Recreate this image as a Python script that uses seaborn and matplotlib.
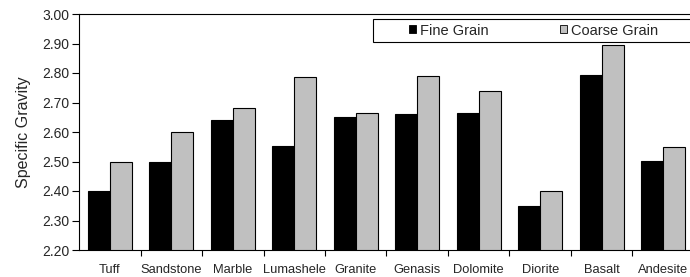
import pandas as pd
import seaborn as sns
import matplotlib.pyplot as plt

rocks = ["Tuff", "Sandstone", "Marble", "Lumashele", "Granite",
         "Genasis", "Dolomite", "Diorite", "Basalt", "Andesite"]
fine_grain = [2.40, 2.50, 2.64, 2.554, 2.65, 2.662, 2.664, 2.35, 2.794, 2.502]
coarse_grain = [2.497, 2.60, 2.68, 2.786, 2.663, 2.79, 2.739, 2.40, 2.895, 2.55]

df = pd.DataFrame({
    "Rock": rocks * 2,
    "SG": fine_grain + coarse_grain,
    "Grain": ["Fine Grain"] * len(rocks) + ["Coarse Grain"] * len(rocks),
})

sns.set_style("white")
plt.rcParams["font.family"] = ["Liberation Sans", "DejaVu Sans"]

fig = plt.figure(figsize=(6.9, 2.77), dpi=100)
ax = fig.add_axes([79 / 690, 27 / 277, 615 / 690, 236 / 277])

sns.barplot(data=df, x="Rock", y="SG", hue="Grain",
            palette=["#000000", "#c0c0c0"], width=0.72,
            edgecolor="black", linewidth=0.8, ax=ax, legend=False)

ax.set_ylim(2.20, 3.00)
ax.set_xlim(-0.5, len(rocks) - 0.5)
ax.set_yticks([2.20 + 0.1 * i for i in range(9)])
ax.set_yticklabels([f"{2.20 + 0.1 * i:.2f}" for i in range(9)], fontsize=10)
ax.set_ylabel("Specific Gravity", fontsize=11.5, labelpad=8)
ax.set_xlabel("")

ax.set_xticks(range(len(rocks)))
ax.set_xticklabels(rocks, fontsize=9.3)
ax.tick_params(axis="x", which="major", length=0, pad=10)
ax.set_xticks([i + 0.5 for i in range(len(rocks) - 1)], minor=True)
ax.tick_params(axis="x", which="minor", length=4.5, width=0.8, color="black", direction="out", bottom=True)
ax.tick_params(axis="y", length=5, width=0.8, color="black", direction="out", left=True, pad=2)

for side in ["left", "top", "bottom", "right"]:
    ax.spines[side].set_color("black")
    ax.spines[side].set_linewidth(0.8)

# legend frame runs off the right edge like in the original
frame = plt.Rectangle((0.478, 0.881), 0.6, 0.098, transform=ax.transAxes,
                      facecolor="white", edgecolor="black", linewidth=0.8,
                      clip_on=False, zorder=5)
ax.add_patch(frame)

handles = [plt.Rectangle((0, 0), 1, 1, facecolor=c, edgecolor="black", linewidth=0.6)
           for c in ["#000000", "#c0c0c0"]]
leg = ax.legend(handles, ["Fine Grain", "Coarse Grain"], ncol=2,
                bbox_to_anchor=(0.739, 0.930), loc="center",
                fontsize=10.5, frameon=False, borderaxespad=0, borderpad=0,
                handlelength=0.5, handleheight=0.5, handletextpad=0.25,
                columnspacing=4.9)
leg.set_zorder(6)

fig.savefig("out.png", dpi=100)
